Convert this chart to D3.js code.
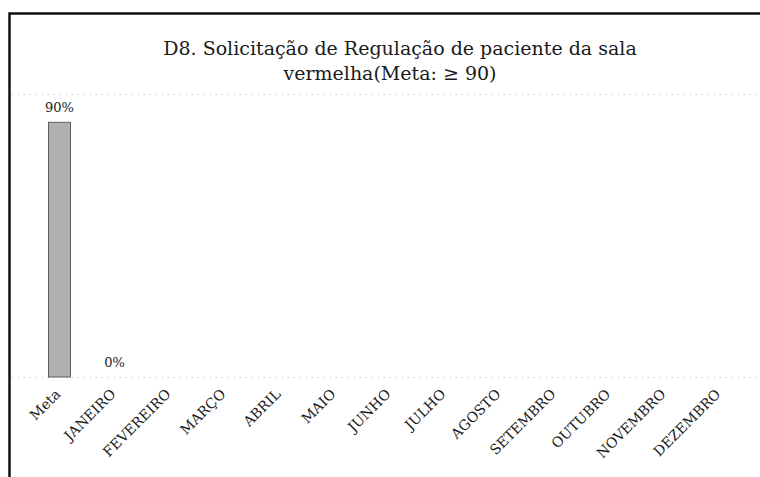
<!DOCTYPE html>
<html>
<head>
<meta charset="utf-8">
<script src="https://cdn.jsdelivr.net/npm/d3@7"></script>
<style>
  body { margin: 0; background: #fff; }
</style>
</head>
<body>
<div id="chart"></div>
<script>
'use strict';

// data
var categories = ['Meta', 'JANEIRO', 'FEVEREIRO', 'MARÇO', 'ABRIL', 'MAIO', 'JUNHO',
                  'JULHO', 'AGOSTO', 'SETEMBRO', 'OUTUBRO', 'NOVEMBRO', 'DEZEMBRO'];
var values = [0.9, 0, null, null, null, null, null, null, null, null, null, null, null];
var titleLines = ['D8. Solicitação de Regulação de paciente da sala', 'vermelha(Meta: \u2265 90)'];

var width = 760,
    height = 477;
var serif = '"DejaVu Serif", "Liberation Serif", serif';

var svg = d3.select('#chart')
    .append('svg')
    .attr('width', width)
    .attr('height', height);

// frame (right and bottom edges fall outside the picture)
svg.append('rect')
    .attr('x', 9.5)
    .attr('y', 13.5)
    .attr('width', width + 20)
    .attr('height', height + 20)
    .style('fill', 'none')
    .style('stroke', '#111')
    .style('stroke-width', 2.5);

// scales
var x = d3.scaleBand()
    .domain(categories)
    .range([32, 747])
    .paddingInner(0.6)
    .paddingOuter(0.3);

var y = d3.scaleLinear()
    .domain([0, 1])
    .range([377, 94]);

// faint dotted gridlines at 0 and 100%
svg.append('g')
    .selectAll('line')
    .data(y.ticks(1))
    .enter()
    .append('line')
    .attr('x1', 12)
    .attr('x2', width)
    .attr('y1', function(d) { return y(d) + 0.5; })
    .attr('y2', function(d) { return y(d) + 0.5; })
    .style('stroke', '#c0c0c0')
    .style('stroke-width', 1)
    .style('stroke-dasharray', '1,5');

// title
svg.append('text')
    .attr('text-anchor', 'middle')
    .style('font-family', serif)
    .style('font-size', '19px')
    .style('fill', '#1a1a1a')
    .selectAll('tspan')
    .data(titleLines)
    .enter()
    .append('tspan')
    .attr('x', function(d, i) { return i === 0 ? 400 : 390; })
    .attr('y', function(d, i) { return i === 0 ? 55 : 80; })
    .text(function(d) { return d; });

// bars
var present = categories.map(function(c, i) { return { cat: c, v: values[i] }; })
    .filter(function(d) { return d.v !== null; });

svg.append('g')
    .selectAll('rect')
    .data(present)
    .enter()
    .append('rect')
    .attr('x', function(d) { return x(d.cat); })
    .attr('y', function(d) { return y(d.v); })
    .attr('width', x.bandwidth())
    .attr('height', function(d) { return y(0) - y(d.v); })
    .style('fill', '#b0b0b0')
    .style('stroke', '#5e5e5e')
    .style('stroke-width', 1);

// value labels
svg.append('g')
    .selectAll('text')
    .data(present)
    .enter()
    .append('text')
    .attr('x', function(d) { return x(d.cat) + x.bandwidth() / 2; })
    .attr('y', function(d) { return y(d.v) - 10; })
    .attr('text-anchor', 'middle')
    .style('font-family', serif)
    .style('font-size', '13px')
    .style('fill', '#1a1a1a')
    .text(function(d) { return d3.format('.0%')(d.v); });

// category axis, rotated labels
var xAxis = d3.axisBottom(x).tickSize(0).tickPadding(0);

var axisG = svg.append('g')
    .attr('transform', 'translate(0,' + y(0) + ')')
    .call(xAxis);

axisG.select('.domain').remove();

axisG.selectAll('text')
    .attr('text-anchor', 'end')
    .attr('dy', null)
    .attr('y', null)
    .attr('transform', 'translate(2,18) rotate(-45)')
    .style('font-family', serif)
    .style('font-size', '14px')
    .style('fill', '#1a1a1a');
</script>
</body>
</html>
